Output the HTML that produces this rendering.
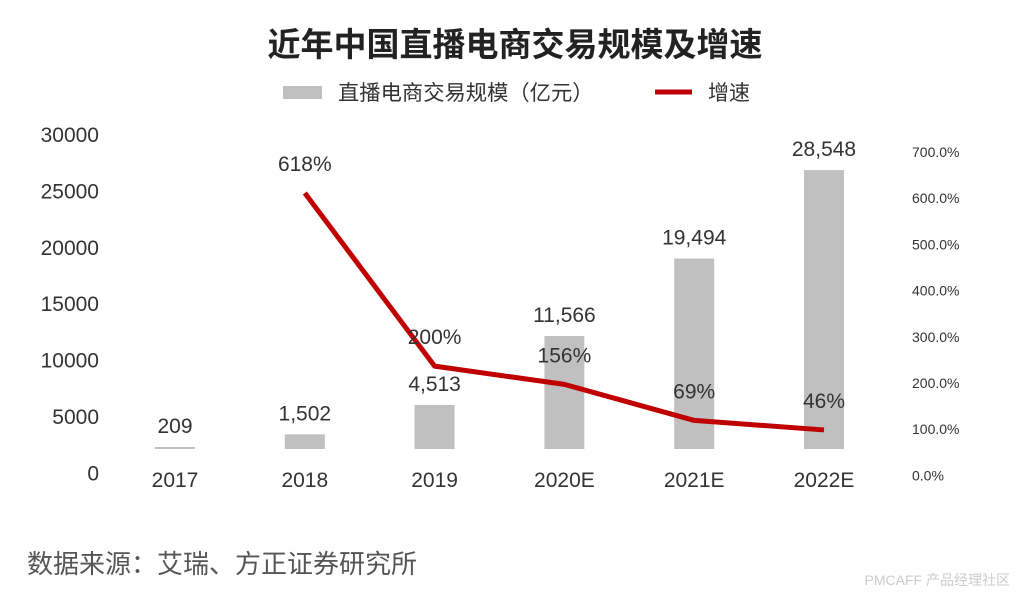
<!DOCTYPE html>
<html><head><meta charset="utf-8">
<style>
body{margin:0;background:#fff;width:1020px;height:602px;overflow:hidden;font-family:"Liberation Sans","Noto Sans CJK SC",sans-serif;}
svg{display:block}
</style></head>
<body>
<svg width="1020" height="602" xmlns="http://www.w3.org/2000/svg">
<text x="515" y="56" text-anchor="middle" font-size="33" font-weight="bold" fill="#222" font-family="Liberation Sans,Noto Sans CJK SC,sans-serif">近年中国直播电商交易规模及增速</text>
<g>
<rect x="283" y="86" width="39" height="13" fill="#c0c0c0"/>
<text x="338" y="100" font-size="21.3" fill="#333">直播电商交易规模（亿元）</text>
<line x1="655" y1="92" x2="692" y2="92" stroke="#c00000" stroke-width="5"/>
<text x="708" y="100" font-size="21" fill="#333">增速</text>
</g>
<g id="left-axis"></g>
<g id="right-axis"></g>
<g id="bars"></g>
<g id="line"></g>
<g id="xaxis"></g>
<text x="27" y="573" font-size="26" fill="#555">数据来源：艾瑞、方正证券研究所</text>
<text x="1010" y="585" text-anchor="end" font-size="14" fill="#ccc">PMCAFF 产品经理社区</text>
</svg>
<script>
const categories=["2017","2018","2019","2020E","2021E","2022E"];
const scaleValues=[209,1502,4513,11566,19494,28548];
const scaleLabels=["209","1,502","4,513","11,566","19,494","28,548"];
const growthCats=["2018","2019","2020E","2021E","2022E"];
const growthValues=[618,200,156,69,46];
const leftTicks=["30000","25000","20000","15000","10000","5000","0"];
const rightTicks=["700.0%","600.0%","500.0%","400.0%","300.0%","200.0%","100.0%","0.0%"];
const NS="http://www.w3.org/2000/svg";
const base=449;
const xPos=c=>175+categories.indexOf(c)*129.8;
const yBar=v=>base-v*0.00977;
const yLine=v=>base-v*0.4143;
function mk(tag,attrs,parent,txt){const e=document.createElementNS(NS,tag);for(const k in attrs)e.setAttribute(k,attrs[k]);if(txt!==undefined)e.textContent=txt;parent.appendChild(e);return e;}
const la=document.getElementById('left-axis');
leftTicks.forEach((t,i)=>{const e=mk('text',{x:99,y:142+i*56.4,'text-anchor':'end','font-size':21,fill:'#333'},la,t);

});
const ra=document.getElementById('right-axis');
rightTicks.forEach((t,i)=>{const e=mk('text',{x:912,y:157+i*46.2,'font-size':14,fill:'#333'},ra,t);

});
const bg=document.getElementById('bars');
categories.forEach((c,i)=>{const x=xPos(c),y=yBar(scaleValues[i]);
const r=mk('rect',{x:x-20,y:y,width:40,height:base-y,fill:'#c0c0c0'},bg);


const t=mk('text',{x:x,y:y-14,'text-anchor':'middle','font-size':21,fill:'#333'},bg,scaleLabels[i]);

});
const lg=document.getElementById('line');
const pts=growthCats.map((c,i)=>xPos(c)+','+yLine(growthValues[i])).join(' ');
const pl=mk('polyline',{points:pts,fill:'none',stroke:'#c00000','stroke-width':5,'stroke-linejoin':'round'},lg);


growthCats.forEach((c,i)=>{const t=mk('text',{x:xPos(c),y:yLine(growthValues[i])-22,'text-anchor':'middle','font-size':21,fill:'#333'},lg,growthValues[i]+'%');

});
const xa=document.getElementById('xaxis');
categories.forEach(c=>{const t=mk('text',{x:xPos(c),y:487,'text-anchor':'middle','font-size':21,fill:'#333'},xa,c);

});
</script>
</body></html>
